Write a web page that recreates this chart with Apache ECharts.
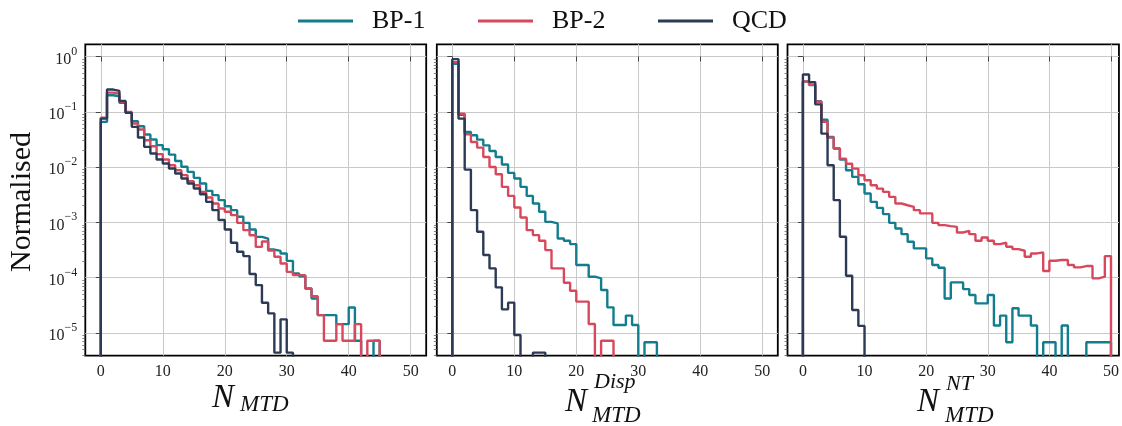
<!DOCTYPE html>
<html>
<head>
<meta charset="utf-8">
<script src="https://cdn.jsdelivr.net/npm/echarts@6/dist/echarts.min.js"></script>
<style>
  html, body { margin: 0; padding: 0; background: #fff; }
  #chart { width: 1122px; height: 426px; }
</style>
</head>
<body>
<div id="chart"></div>
<script>
// Normalised bin contents, one entry per unit-width bin starting at 0.
// Empty bins are 0; the outline drops to the bottom after the last listed bin.
const seriesNames = ['BP-1', 'BP-2', 'QCD'];

// N_MTD
const bp1_mtd = [0.0655, 0.199, 0.191, 0.145, 0.0955, 0.0675, 0.0548, 0.0387, 0.0315, 0.0249,
  0.0210, 0.0168, 0.0129, 0.0101, 0.00818, 0.00638, 0.00504, 0.00371, 0.00310, 0.00252,
  0.00196, 0.00166, 0.00126, 0.00098, 0.00074, 0.000546, 0.000509, 0.000322, 0.000305, 0.000273,
  0.000201, 0.000119, 0.000106, 6.37e-5, 4.2e-5, 2.1e-5, 2.1e-5, 2.1e-5, 1.44e-5, 1.44e-5,
  2.88e-5, 7.2e-6, 0, 0, 7.2e-6];
const bp2_mtd = [0.078, 0.222, 0.213, 0.151, 0.0995, 0.0612, 0.0477, 0.0306, 0.0238, 0.0171,
  0.0137, 0.0108, 0.00877, 0.00713, 0.00555, 0.0047, 0.00356, 0.00281, 0.00219, 0.00178,
  0.00155, 0.00135, 0.00098, 0.000723, 0.000586, 0.00036, 0.00045, 0.00031, 0.000238, 0.00018,
  0.000127, 0.000111, 0.000111, 6.3e-5, 4.6e-5, 2.1e-5, 7.2e-6, 7.2e-6, 1.44e-5, 7.2e-6,
  7.2e-6, 1.44e-5, 0, 7.2e-6, 7.2e-6];
const qcd_mtd = [0.075, 0.252, 0.238, 0.157, 0.0955, 0.0533, 0.0342, 0.0232, 0.0176, 0.0137,
  0.0116, 0.0094, 0.00764, 0.00621, 0.00504, 0.00409, 0.00323, 0.00235, 0.00166, 0.0011,
  0.000743, 0.000427, 0.000293, 0.000245, 0.000116, 7.33e-5, 3.51e-5, 2.26e-5, 4.4e-6, 1.76e-5,
  4.4e-6];

// N_MTD^Disp
const bp1_disp = [0.74, 0.088, 0.0431, 0.0375, 0.0313, 0.0247, 0.0195, 0.0152, 0.0111, 0.00783,
  0.00619, 0.00438, 0.00301, 0.00219, 0.00155, 0.00102, 0.000955, 0.000511, 0.000464, 0.000404,
  0.000169, 0.000169, 0.000104, 9.7e-5, 5.97e-5, 2.9e-5, 1.39e-5, 1.39e-5, 2.06e-5, 1.39e-5,
  0, 6.8e-6, 6.8e-6];
const bp2_disp = [0.79, 0.0923, 0.0391, 0.0284, 0.0225, 0.0152, 0.01005, 0.00741, 0.00438, 0.00301,
  0.00185, 0.00122, 0.000723, 0.000588, 0.000464, 0.000315, 0.000147, 0.000147, 8.1e-5, 5.81e-5,
  3.68e-5, 3.68e-5, 1.45e-5, 0, 7.2e-6, 7.2e-6];
const qcd_disp = [0.895, 0.075, 0.009, 0.00166, 0.000675, 0.000256, 0.000147, 6.67e-5, 2.67e-5, 3.53e-5,
  9.2e-6, 0, 0, 4.4e-6, 4.4e-6];

// N_MTD^NT
const bp1_nt = [0.35, 0.305, 0.155, 0.0719, 0.035, 0.0216, 0.0136, 0.00875, 0.00664, 0.00489,
  0.00332, 0.00235, 0.00183, 0.00141, 0.00098, 0.000775, 0.000612, 0.000445, 0.000338, 0.000338,
  0.000223, 0.000169, 0.000151, 4.2e-5, 8.2e-5, 8.2e-5, 6.2e-5, 4.85e-5, 3.43e-5, 3.43e-5,
  4.85e-5, 1.36e-5, 2.06e-5, 6.8e-6, 2.79e-5, 2.06e-5, 2.06e-5, 1.36e-5, 0, 6.8e-6,
  6.8e-6, 0, 1.36e-5, 0, 0, 0, 6.8e-6, 6.8e-6, 6.8e-6, 6.8e-6];
const bp2_nt = [0.354, 0.308, 0.152, 0.066, 0.034, 0.0216, 0.0142, 0.0115, 0.00938, 0.00711,
  0.00578, 0.00469, 0.00408, 0.00356, 0.00289, 0.00219, 0.00204, 0.00191, 0.00166, 0.00145,
  0.00145, 0.00098, 0.00089, 0.000854, 0.00083, 0.000656, 0.000703, 0.000612, 0.000464, 0.000533,
  0.000464, 0.000404, 0.000427, 0.000362, 0.000328, 0.000306, 0.000239, 0.000274, 0.000286, 0.000132,
  0.000202, 0.000208, 0.000208, 0.000169, 0.000153, 0.000162, 0.000162, 9.7e-5, 0.000104, 0.000245];
const qcd_nt = [0.473, 0.344, 0.136, 0.0402, 0.0108, 0.00252, 0.000548, 0.000108, 2.6e-5, 1.34e-5];

const xTicks = [0, 10, 20, 30, 40, 50];
const yDecades = [-5, -4, -3, -2, -1, 0];

const panelData = [
  { 'BP-1': bp1_mtd, 'BP-2': bp2_mtd, 'QCD': qcd_mtd },
  { 'BP-1': bp1_disp, 'BP-2': bp2_disp, 'QCD': qcd_disp },
  { 'BP-1': bp1_nt, 'BP-2': bp2_nt, 'QCD': qcd_nt }
];

// ---- styling / layout ----
const SERIF = '"Liberation Serif", "DejaVu Serif", serif';
const COLORS = { 'BP-1': '#127d8d', 'BP-2': '#d7485d', 'QCD': '#2c3a55' };
const GRID_TOP = 44.3, GRID_H = 311.3;
const PANELS = [
  { left: 85.3, width: 340.9, xMax: 52.5 },
  { left: 436.8, width: 341.0, xMax: 52.5 },
  { left: 787.5, width: 333.5, xMax: 51.29 }
];
const Y_MIN = -5.41, Y_MAX = 0.22;   // log10 range of the vertical axes
const FLOOR = -9;                     // log10 used for empty bins (below the frame)

// minor log ticks at 2..9 x 10^n inside the visible range
const yMinor = [];
for (let n = -6; n <= 0; n++) {
  for (let k = 2; k <= 9; k++) {
    const v = n + Math.log10(k);
    if (v > Y_MIN && v < Y_MAX) yMinor.push(v);
  }
}

// outline of a step histogram: up from the floor at 0, across each bin, down after the last
function stepOutline(heights) {
  const pts = [[0, FLOOR]];
  heights.forEach((h, i) => pts.push([i, h > 0 ? Math.log10(h) : FLOOR]));
  pts.push([heights.length, FLOOR]);
  return pts;
}

const grids = PANELS.map(p => ({
  left: p.left, top: GRID_TOP, width: p.width, height: GRID_H,
  show: true, borderColor: '#000', borderWidth: 1.8, backgroundColor: 'transparent',
  containLabel: false
}));

const gridLine = { show: true, lineStyle: { color: '#c9c9c9', width: 1 } };

const xAxes = PANELS.map((p, k) => ({
  gridIndex: k, type: 'value', min: -2.5, max: p.xMax,
  axisLine: { show: false },
  axisTick: { show: true, length: 5, customValues: xTicks, lineStyle: { color: '#444', width: 1 } },
  axisLabel: { show: true, customValues: xTicks, margin: 8, fontFamily: SERIF, fontSize: 16, color: '#222' },
  splitLine: gridLine
}));

const supText = n => (n < 0 ? '\u2212' + (-n) : String(n));
const yMain = PANELS.map((p, k) => ({
  gridIndex: k, type: 'value', position: 'left', min: Y_MIN, max: Y_MAX,
  axisLine: { show: false },
  axisTick: { show: true, length: 5, customValues: yDecades, lineStyle: { color: '#444', width: 1 } },
  axisLabel: {
    show: k === 0, customValues: yDecades, margin: 8,
    formatter: v => '{b|10}{s|' + supText(Math.round(v)) + '}',
    rich: {
      b: { fontFamily: SERIF, fontSize: 16, color: '#222', lineHeight: 22, verticalAlign: 'bottom' },
      s: { fontFamily: SERIF, fontSize: 12, color: '#222', lineHeight: 22, verticalAlign: 'top' }
    }
  },
  splitLine: gridLine
}));
const yMinorAxes = PANELS.map((p, k) => ({
  gridIndex: k, type: 'value', position: 'left', min: Y_MIN, max: Y_MAX,
  axisLine: { show: false },
  axisTick: { show: true, length: 3, customValues: yMinor, lineStyle: { color: '#666', width: 0.8 } },
  axisLabel: { show: false },
  splitLine: { show: false }
}));

const series = [];
PANELS.forEach((p, k) => {
  seriesNames.forEach((name, j) => {
    series.push({
      type: 'line', name, xAxisIndex: k, yAxisIndex: k,
      data: stepOutline(panelData[k][name]),
      step: 'end', showSymbol: false, symbol: 'none', clip: true, silent: true,
      color: COLORS[name],
      lineStyle: { color: COLORS[name], width: 2.4 },
      z: 2 + j
    });
  });
});

const legendLefts = [298, 478, 658];
const legends = seriesNames.map((name, i) => ({
  data: [name], left: legendLefts[i], top: 8, padding: 0,
  icon: 'rect', itemWidth: 55, itemHeight: 2.8, selectedMode: false,
  textStyle: { fontFamily: SERIF, fontSize: 26, color: '#111', padding: [6, 0, 0, 14] }
}));

// axis titles
const italic = size => 'italic ' + size + 'px ' + SERIF;
const titles = [
  { text: 'N', x: 212, y: 398, font: italic(33) },
  { text: 'MTD', x: 240, y: 405, font: italic(23) },
  { text: 'N', x: 565, y: 402, font: italic(33) },
  { text: 'Disp', x: 594, y: 382, font: italic(22) },
  { text: 'MTD', x: 592, y: 416, font: italic(23) },
  { text: 'N', x: 917, y: 402, font: italic(33) },
  { text: 'NT', x: 946, y: 384, font: italic(22) },
  { text: 'MTD', x: 945, y: 416, font: italic(23) }
].map(t => ({
  type: 'text', x: t.x, y: t.y, silent: true,
  style: { text: t.text, font: t.font, fill: '#111', align: 'left', verticalAlign: 'middle' }
}));
titles.push({
  type: 'text', x: 22, y: 202, rotation: Math.PI / 2, silent: true,
  style: { text: 'Normalised', font: '30px ' + SERIF, fill: '#111', align: 'center', verticalAlign: 'middle' }
});

const chart = echarts.init(document.getElementById('chart'), null, { renderer: 'canvas' });
chart.setOption({
  animation: false,
  backgroundColor: '#fff',
  legend: legends,
  grid: grids,
  xAxis: xAxes,
  yAxis: yMain.concat(yMinorAxes),
  series,
  graphic: titles
});
</script>
</body>
</html>
